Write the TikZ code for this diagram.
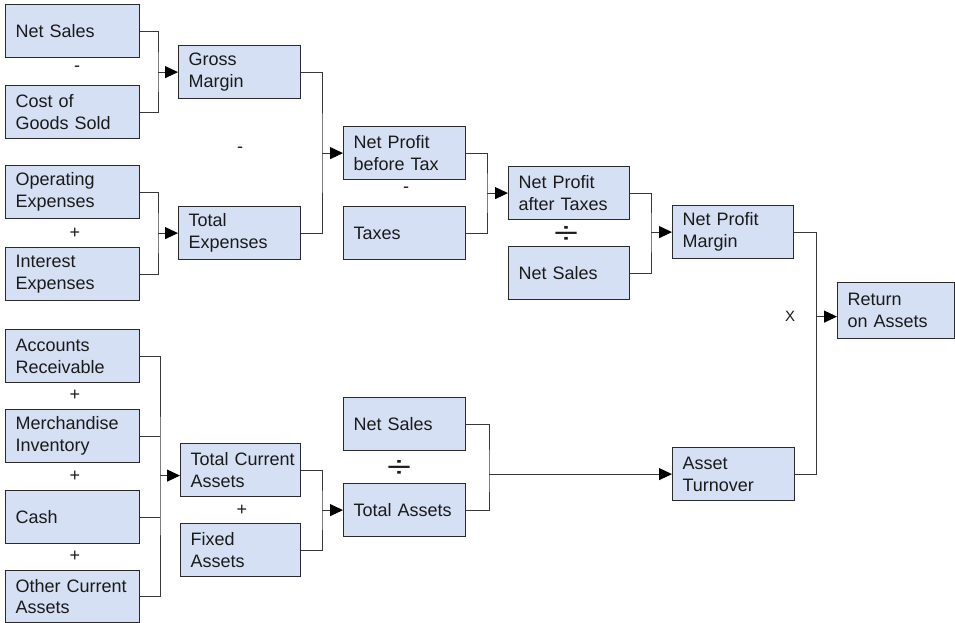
\documentclass[tikz,border=0pt]{standalone}
\usepackage{fontspec}
\usepackage{graphicx}
\setmainfont{Liberation Sans}
\usetikzlibrary{arrows.meta}
\definecolor{boxfill}{HTML}{D6E0F4}
\definecolor{boxline}{HTML}{2A2A2A}
\definecolor{lineclr}{HTML}{383838}
\definecolor{txt}{HTML}{1A1A1A}
\hyphenpenalty=10000
\exhyphenpenalty=10000
\begin{document}
\begin{tikzpicture}[x=1pt,y=-1pt,
  box/.style={draw=boxline, line width=1.2pt, fill=boxfill, anchor=north west,
    inner xsep=10pt, inner ysep=0pt, align=left, text=txt,
    font=\fontsize{18}{21.7}\selectfont, minimum height=53pt},
  op/.style={inner sep=0pt, text=txt, font=\fontsize{18}{18}\selectfont},
  divop/.style={inner sep=0pt, text=txt},
  conn/.style={draw=lineclr, line width=1pt},
  arr/.style={conn, -{Triangle[length=13pt,width=12pt,color=black]}}]
\useasboundingbox (0,0) rectangle (955,623);
% left column
\node[box,text width=114pt] (ns1) at (5,4) {\mbox{Net Sales}};
\node[box,text width=114pt] (cogs) at (5,85) {\mbox{Cost of}\\\mbox{Goods Sold}};
\node[box,text width=114pt] (opex) at (5,165) {Operating\\Expenses};
\node[box,text width=114pt] (intex) at (5,247) {Interest\\Expenses};
\node[box,text width=114pt] (ar) at (5,329) {Accounts\\Receivable};
\node[box,text width=114pt] (mi) at (5,409) {Merchandise\\Inventory};
\node[box,text width=114pt] (cash) at (5,490) {Cash};
\node[box,text width=114pt,minimum height=52pt] (oca) at (5,570) {\mbox{Other Current}\\Assets};
% second column
\node[box,text width=102pt] (gm) at (178,45) {Gross\\Margin};
\node[box,text width=102pt] (te) at (178,206) {Total\\Expenses};
\node[box,text width=100pt] (tca) at (180,443) {\mbox{Total Current}\\Assets};
\node[box,text width=100pt] (fa) at (180,523) {Fixed\\Assets};
% third column
\node[box,text width=102pt] (npbt) at (343,126) {\mbox{Net Profit}\\\mbox{before Tax}};
\node[box,text width=102pt] (tax) at (343,206) {Taxes};
\node[box,text width=102pt] (ns3) at (343,397) {\mbox{Net Sales}};
\node[box,text width=102pt] (ta) at (343,483) {\mbox{Total Assets}};
% fourth column
\node[box,text width=101pt] (npat) at (508,166) {\mbox{Net Profit}\\\mbox{after Taxes}};
\node[box,text width=101pt] (ns2) at (508,246) {\mbox{Net Sales}};
% fifth column
\node[box,text width=101pt] (npm) at (672,205) {\mbox{Net Profit}\\Margin};
\node[box,text width=102pt] (at) at (672,447) {Asset\\Turnover};
% result
\node[box,text width=97pt,minimum height=56pt] (roa) at (837,282) {Return\\\mbox{on Assets}};
% operators
\node[op] (m1) at (77,69) {-};
\node[op] (m2) at (240,150) {-};
\node[op] (p1) at (75,233) {+};
\node[op] (m3) at (406,190) {-};
\node[divop] (d1) at (566,235) {\resizebox{24pt}{17pt}{÷}};
\node[op,font=\fontsize{15}{15}\selectfont] (x1) at (790,316) {X};
\node[op] (p2) at (75,395) {+};
\node[op] (p3) at (75,476) {+};
\node[op] (p4) at (75,556) {+};
\node[op] (p5) at (242,510) {+};
\node[divop] (d2) at (399,469) {\resizebox{24pt}{17pt}{÷}};
% junctions
\coordinate (j1) at ([xshift=-20pt]gm.west);
\coordinate (j2) at ([xshift=-20pt]te.west);
\coordinate (j3) at ([xshift=-21pt]npbt.west);
\coordinate (j4) at ([xshift=-21pt]npat.west);
\coordinate (j5) at ([xshift=-21pt]npm.west);
\coordinate (j6) at ([xshift=-21pt,yshift=-6pt]roa.west);
\coordinate (j7) at ([xshift=-20pt,yshift=-5.5pt]tca.west);
\coordinate (j8) at ([xshift=-21pt]ta.west);
\coordinate (j9) at ([xshift=-183pt]at.west);
% connectors
\draw[conn] (ns1.east) -| (j1) |- (cogs.east);
\draw[arr] (j1) -- (j1 -| gm.west);
\draw[conn] (opex.east) -| (j2) |- (intex.east);
\draw[arr] (j2) -- (j2 -| te.west);
\draw[conn] (gm.east) -| (j3) |- (te.east);
\draw[arr] (j3) -- (j3 -| npbt.west);
\draw[conn] (npbt.east) -| (j4) |- (tax.east);
\draw[arr] (j4) -- (j4 -| npat.west);
\draw[conn] (npat.east) -| (j5) |- (ns2.east);
\draw[arr] (j5) -- (j5 -| npm.west);
\draw[conn] (npm.east) -| (j6) |- (at.east);
\draw[arr] (j6) -- (j6 -| roa.west);
\draw[conn] (ar.east) -| (j7) |- (oca.east);
\draw[conn] (mi.east) -- (mi.east -| j7);
\draw[conn] (cash.east) -- (cash.east -| j7);
\draw[arr] (j7) -- (j7 -| tca.west);
\draw[conn] (tca.east) -| (j8) |- (fa.east);
\draw[arr] (j8) -- (j8 -| ta.west);
\draw[conn] (ns3.east) -| (j9) |- (ta.east);
\draw[arr] (j9) -- (j9 -| at.west);
\end{tikzpicture}
\end{document}
